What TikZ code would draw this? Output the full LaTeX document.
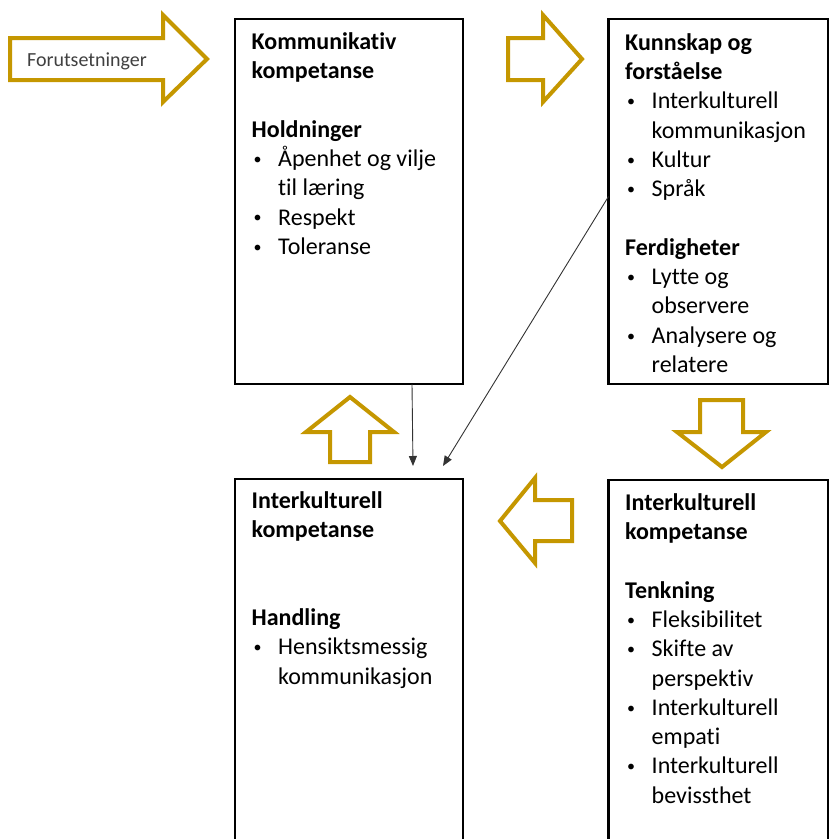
\documentclass[tikz,border=0pt]{standalone}
\usepackage{fontspec}
\setmainfont{Carlito}[Ligatures=NoCommon]
\usetikzlibrary{arrows.meta}
\definecolor{gold}{RGB}{197,151,0}
\newcommand\pkt[1]{\makebox[26.5pt][l]{\hspace*{1.8pt}\raisebox{2.2pt}{\fontsize{16}{16}\selectfont •}}#1}
\newcommand\forts[1]{\hspace*{26.5pt}#1}
\newcommand\topstrut{\rule{0pt}{20pt}}

\begin{document}
\begin{tikzpicture}[x=1pt, y=-1pt,
  box/.style={draw, line width=2.5pt, anchor=north west, outer sep=0pt, inner sep=0pt},
  boxtext/.style={anchor=north west, align=left, inner sep=0pt, font=\fontsize{24}{29.3}\selectfont},
  fatarrow/.style={draw=gold, line width=4pt, fill=white},
  link/.style={draw=black!80, line width=0.9pt, -{Triangle[length=10pt, width=8pt]}}
]
\useasboundingbox (0,0) rectangle (829,839);
\clip (0,0) rectangle (829,839);

% boxes
\node[box, minimum width=228, minimum height=365] (komm) at (235,19) {};
\node[box, minimum width=220, minimum height=365] (kunn) at (608.5,19) {};
\node[box, minimum width=228, minimum height=420] (handl) at (235,479) {};
\node[box, minimum width=220, minimum height=420] (tenk) at (608.5,480) {};

% box texts
\node[boxtext] (komm txt) at (251.5,29) {\textbf{\topstrut Kommunikativ}\\ \textbf{kompetanse}\\ ~\\ \textbf{Holdninger}\\ \pkt{Åpenhet og vilje}\\ \forts{til læring}\\ \pkt{Respekt}\\ \pkt{Toleranse}};
\node[boxtext] (kunn txt) at (625,30) {\textbf{\topstrut Kunnskap og}\\ \textbf{forståelse}\\ \pkt{Interkulturell}\\ \forts{kommunikasjon}\\ \pkt{Kultur}\\ \pkt{Språk}\\ ~\\ \textbf{Ferdigheter}\\ \pkt{Lytte og}\\ \forts{observere}\\ \pkt{Analysere og}\\ \forts{relatere}};
\node[boxtext] (handl txt) at (251.5,488) {\textbf{\topstrut Interkulturell}\\ \textbf{kompetanse}\\ ~\\ ~\\ \textbf{Handling}\\ \pkt{Hensiktsmessig}\\ \forts{kommunikasjon}};
\node[boxtext] (tenk txt) at (625,490) {\textbf{\topstrut Interkulturell}\\ \textbf{kompetanse}\\ ~\\ \textbf{Tenkning}\\ \pkt{Fleksibilitet}\\ \pkt{Skifte av}\\ \forts{perspektiv}\\ \pkt{Interkulturell}\\ \forts{empati}\\ \pkt{Interkulturell}\\ \forts{bevissthet}};

% fat arrows
\draw[fatarrow] (10,38) -- (163,38) -- (163,15) -- (207,59) -- (163,102) -- (163,80) -- (10,80) -- cycle;
\draw[fatarrow] (508,38) -- (543,38) -- (543,15) -- (582,59) -- (543,102) -- (543,80) -- (508,80) -- cycle;
\draw[fatarrow] (700,400) -- (743,400) -- (743,432) -- (766,432) -- (722,467) -- (677,432) -- (700,432) -- cycle;
\draw[fatarrow] (572,500) -- (535,500) -- (535,478) -- (500,521) -- (535,563) -- (535,541) -- (572,541) -- cycle;
\draw[fatarrow] (330,462) -- (330,432) -- (306,432) -- (350,397) -- (394,432) -- (370,432) -- (370,462) -- cycle;
\node[anchor=base, inner sep=0pt, text=black!75, font=\fontsize{20}{24}\selectfont] (forut) at (87,66) {Forutsetninger};

% thin links
\coordinate (end1) at (413,466);
\coordinate (end2) at (443,466);
\draw[link] ([xshift=-51pt]komm.south east) -- (end1);
\draw[link] ([yshift=5pt]kunn.west) -- (end2);
\end{tikzpicture}
\end{document}
